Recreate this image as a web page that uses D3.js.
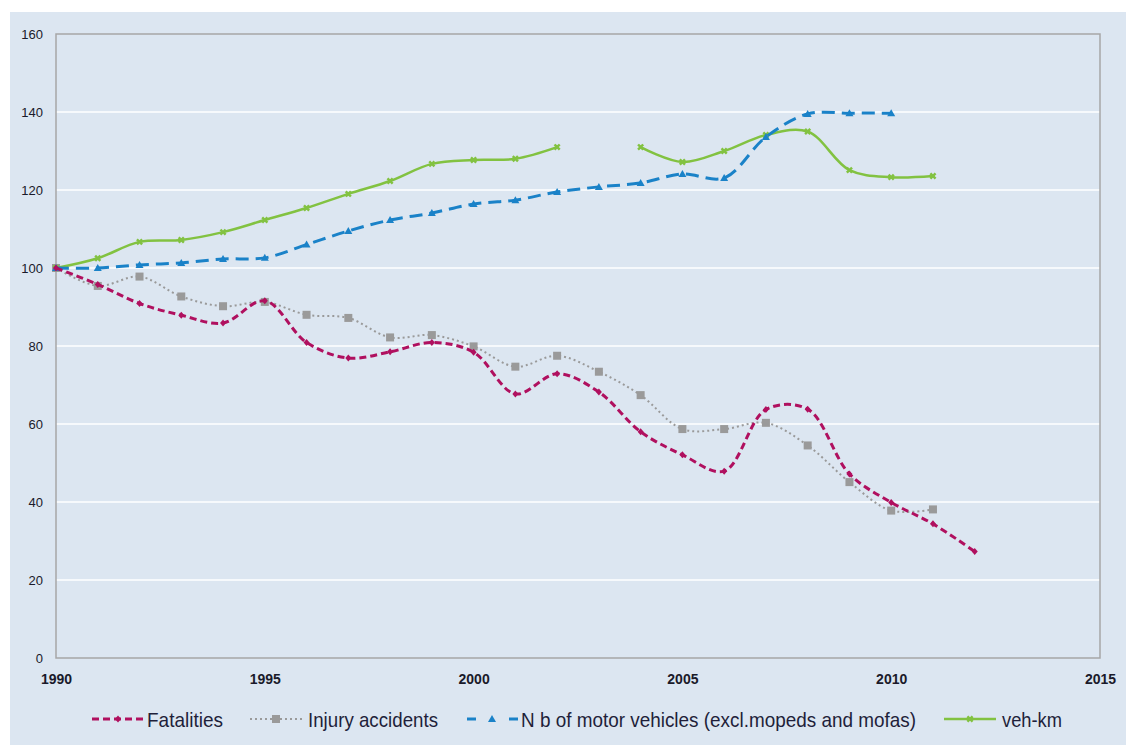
<!DOCTYPE html>
<html><head><meta charset="utf-8">
<script src="https://cdn.jsdelivr.net/npm/d3@7"></script>
<style>body{margin:0;background:#fff;}svg{display:block;}</style>
</head><body>
<svg id="c" width="1126" height="745"></svg>
<script>
const years = d3.range(1990, 2013);
const fatalities = [100,95.8,90.9,87.9,85.9,91.6,80.9,76.9,78.5,80.9,78.4,67.7,72.9,68.2,58.0,52.1,47.9,63.7,63.8,47.2,39.9,34.4,27.3];
const injuryAccidents = [100,95.4,97.8,92.7,90.2,91.3,88.0,87.2,82.2,82.8,79.9,74.7,77.5,73.4,67.4,58.7,58.7,60.3,54.5,45.1,37.8,38.1,null];
const motorVehicles = [100,100.0,100.8,101.3,102.3,102.6,106.0,109.5,112.3,114.1,116.4,117.4,119.5,120.8,121.8,124.1,123.1,133.6,139.5,139.7,139.7,null,null];
const vehKm = [100,102.5,106.7,107.2,109.2,112.3,115.4,119.0,122.3,126.7,127.7,128.0,131.0,null,131.0,127.2,130.0,134.1,135.0,125.1,123.3,123.6,null];
const xTicks = [1990,1995,2000,2005,2010,2015];
const yTicks = [0,20,40,60,80,100,120,140,160];
const seriesNames = ["Fatalities","Injury accidents","N b of motor vehicles (excl.mopeds and mofas)","veh-km"];

const FONT = "'Liberation Sans',Arial,sans-serif";
const svg = d3.select("#c");
svg.append("rect").attr("x",10).attr("y",12).attr("width",1116).attr("height",733).attr("fill","#dce6f1");

const L=56,R=1100,T=34,B=658;
const x = d3.scaleLinear().domain([1990,2015]).range([L,R]);
const y = d3.scaleLinear().domain([0,160]).range([B,T]);

// gridlines
svg.append("g").selectAll("line").data(yTicks.filter(d=>d>0&&d<160)).join("line")
  .attr("x1",L).attr("x2",R).attr("y1",d=>y(d)).attr("y2",d=>y(d))
  .attr("stroke","#ffffff").attr("stroke-width",1.5);
// frame
svg.append("rect").attr("x",L).attr("y",T).attr("width",R-L).attr("height",B-T)
  .attr("fill","none").attr("stroke","#a6a6a6").attr("stroke-width",1.5);

const ya = svg.append("g").attr("transform",`translate(${L-13},0)`)
  .call(d3.axisLeft(y).tickValues(yTicks).tickSize(0).tickPadding(0));
ya.select(".domain").remove();
ya.selectAll("text").attr("font-family",FONT)
  .attr("font-size",13).attr("fill","#1a1a2a").attr("dy","0.35em").attr("x",0);

const xa = svg.append("g").attr("transform",`translate(0,${B+15})`)
  .call(d3.axisBottom(x).tickValues(xTicks).tickFormat(d3.format("d")).tickSize(0).tickPadding(0));
xa.select(".domain").remove();
xa.selectAll("text").attr("font-family",FONT)
  .attr("font-size",14).attr("font-weight","bold").attr("fill","#1a1a2a").attr("dy","0.8em");

const curve = d3.curveCatmullRom.alpha(0.5);
function draw(vals, color, dash, width, marker){
  const data = years.map((yr,i)=>({yr, v: vals[i]}));
  const line = d3.line().defined(d=>d.v!=null).x(d=>x(d.yr)).y(d=>y(d.v)).curve(curve);
  svg.append("path").datum(data).attr("d",line).attr("fill","none")
    .attr("stroke",color).attr("stroke-width",width).attr("stroke-dasharray",dash);
  const pts = data.filter(d=>d.v!=null);
  const g = svg.append("g");
  pts.forEach(d=>marker(g, x(d.yr), y(d.v), color));
}
const diamond = (g,cx,cy,c)=>g.append("path").attr("d",`M${cx},${cy-3.5}L${cx+3},${cy}L${cx},${cy+3.5}L${cx-3},${cy}Z`).attr("fill",c);
const square = (g,cx,cy,c)=>g.append("rect").attr("x",cx-4).attr("y",cy-4).attr("width",8).attr("height",8).attr("fill",c);
const tri = (g,cx,cy,c)=>g.append("path").attr("d",`M${cx},${cy-4}L${cx+4},${cy+3}L${cx-4},${cy+3}Z`).attr("fill",c);
const star = (g,cx,cy,c)=>g.append("path").attr("d",d3.symbol(d3.symbolCross,30)()).attr("transform",`translate(${cx},${cy}) rotate(45)`).attr("fill",c);

const cInj="#9a9a9a", cFat="#b0105f", cVeh="#1a82c8", cKm="#82c241";
draw(injuryAccidents, cInj, "2,3", 2, square);
draw(vehKm, cKm, null, 2.5, star);
draw(motorVehicles, cVeh, "13,7", 3, tri);
draw(fatalities, cFat, "7,4", 3, diamond);

// legend
const legY = 719;
const items = [
  {x:92, c:cFat, dash:"7,4", w:3, m:diamond, tx:147, tl:76},
  {x:250, c:cInj, dash:"2,3", w:2, m:square, tx:308, tl:130},
  {x:466, c:cVeh, dash:"0,1,9,33,9", w:3, m:tri, tx:521, tl:395},
  {x:944, c:cKm, dash:null, w:2.5, m:star, tx:1002, tl:60},
];
const lg = svg.append("g");
items.forEach((it,i)=>{
  lg.append("line").attr("x1",it.x).attr("x2",it.x+52).attr("y1",legY).attr("y2",legY)
    .attr("stroke",it.c).attr("stroke-width",it.w).attr("stroke-dasharray",it.dash);
  it.m(lg, it.x+26, legY, it.c);
  lg.append("text").attr("x",it.tx).attr("y",legY).attr("dy","0.36em")
    .attr("font-family",FONT).attr("font-size",21).attr("fill","#1f1f3a")
    .attr("textLength",it.tl).attr("lengthAdjust","spacingAndGlyphs")
    .text(seriesNames[i]);
});
</script>
</body></html>
